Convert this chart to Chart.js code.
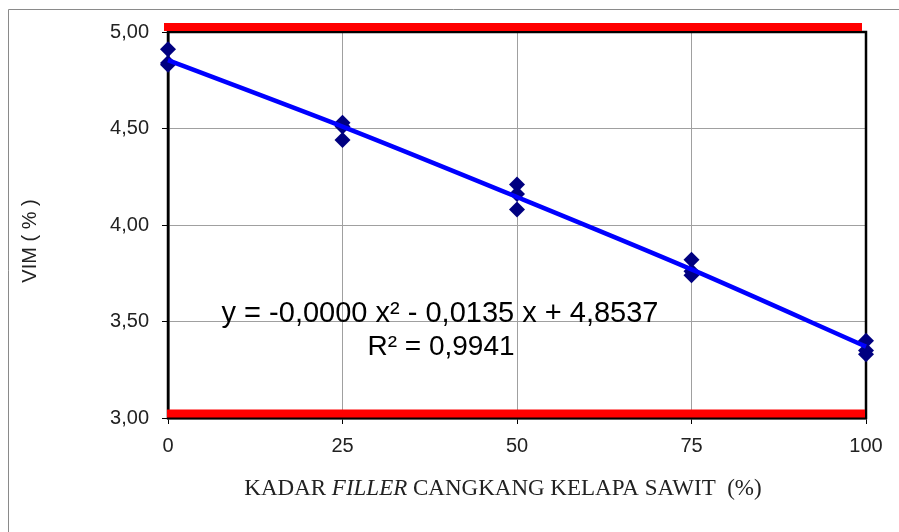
<!DOCTYPE html>
<html>
<head>
<meta charset="utf-8">
<script src="https://cdn.jsdelivr.net/npm/chart.js@4"></script>
<style>
body { margin: 0; background: #fff; }
#wrap { width: 899px; height: 532px; }
</style>
</head>
<body>
<div id="wrap"><canvas id="vimChart" width="899" height="532"></canvas></div>
<script>
// kadar filler (%)
var kadar = [0, 25, 50, 75, 100]
//data collected (three samples per kadar)
var vimA = [4.91, 4.53, 4.21, 3.82, 3.40]
var vimB = [4.84, 4.51, 4.16, 3.76, 3.35]
var vimC = [4.83, 4.44, 4.08, 3.74, 3.33]
// polynomial trendline
var trendVim = [4.854, 4.51, 4.145, 3.77, 3.37]
// spec limits (red lines)
var batasAtas = [5.0, 5.0]
var batasBawah = [3.0, 3.0]
var batasX = [0, 100]
var yTicks = [3.0, 3.5, 4.0, 4.5, 5.0]
var equation = "y = -0,0000 x\u00b2 - 0,0135 x + 4,8537"
var rSquared = "R\u00b2 = 0,9941"

function toPoints(xs, ys) {
    var pts = []
    for (var i = 0; i < xs.length; i++) {
        pts.push({x: xs[i], y: ys[i]})
    }
    return pts
}

var scatterPts = toPoints(kadar, vimA).concat(toPoints(kadar, vimB)).concat(toPoints(kadar, vimC))

var framePlugin = {
    id: "frame",
    beforeDraw: function(chart) {
        var ctx = chart.ctx
        ctx.save()
        ctx.fillStyle = "#fff"
        ctx.fillRect(0, 0, chart.width, chart.height)
        ctx.strokeStyle = "#8a8a8a"
        ctx.lineWidth = 1
        ctx.beginPath()
        ctx.moveTo(8.5, chart.height)
        ctx.lineTo(8.5, 9.5)
        ctx.lineTo(chart.width, 9.5)
        ctx.stroke()
        ctx.restore()
    },
    beforeDatasetsDraw: function(chart) {
        var a = chart.chartArea
        var ctx = chart.ctx
        ctx.save()
        ctx.strokeStyle = "#000"
        ctx.lineWidth = 2.5
        ctx.strokeRect(a.left, a.top, a.right - a.left, a.bottom - a.top)
        ctx.restore()
    },
    beforeDatasetDraw: function(chart, args) {
        var ds = chart.data.datasets[args.index]
        chart.ctx.save()
        if (ds.shiftY) chart.ctx.translate(ds.shiftX || 0, ds.shiftY)
    },
    afterDatasetDraw: function(chart) {
        chart.ctx.restore()
    },
    afterDraw: function(chart) {
        var ctx = chart.ctx
        ctx.save()
        ctx.fillStyle = "#000"
        ctx.textAlign = "center"
        ctx.textBaseline = "alphabetic"
        ctx.font = "29px 'Liberation Sans', Arial, sans-serif"
        ctx.fillText(equation, 440, 322)
        ctx.font = "28px 'Liberation Sans', Arial, sans-serif"
        ctx.fillText(rSquared, 441, 355)

        // y title
        ctx.fillStyle = "#222"
        ctx.font = "20px 'Liberation Sans', Arial, sans-serif"
        ctx.translate(30, 241)
        ctx.rotate(-Math.PI / 2)
        ctx.textBaseline = "middle"
        ctx.fillText("VIM ( % )", 0, 0)
        ctx.restore()

        // x title with italic FILLER
        ctx.save()
        ctx.fillStyle = "#222"
        ctx.textBaseline = "alphabetic"
        var parts = [["KADAR ", ""], ["FILLER", "italic "], [" CANGKANG KELAPA SAWIT  (%)", ""]]
        var total = 0
        for (var i = 0; i < parts.length; i++) {
            ctx.font = parts[i][1] + "23px 'Liberation Serif', 'Times New Roman', serif"
            total += ctx.measureText(parts[i][0]).width
        }
        var x = 503 - total / 2
        for (var j = 0; j < parts.length; j++) {
            ctx.font = parts[j][1] + "23px 'Liberation Serif', 'Times New Roman', serif"
            ctx.textAlign = "left"
            ctx.fillText(parts[j][0], x, 495)
            x += ctx.measureText(parts[j][0]).width
        }
        ctx.restore()
    }
}

var myChart = document.getElementById("vimChart").getContext("2d")
var chart = new Chart(myChart, {
    type: "scatter",
    data: {
        datasets: [{
            label: "Trendline",
            type: "line",
            data: toPoints(kadar, trendVim),
            borderColor: "#0000ff",
            borderWidth: 4.5,
            pointRadius: 0,
            tension: 0.3,
            fill: false,
            clip: false,
            order: 0
        }, {
            label: "VIM",
            data: scatterPts,
            pointStyle: "rectRot",
            pointRadius: 8,
            backgroundColor: "#000080",
            borderColor: "#000080",
            borderWidth: 0,
            clip: false,
            order: 1
        }, {
            label: "Batas atas",
            type: "line",
            data: toPoints(batasX, batasAtas),
            borderColor: "#ff0000",
            borderWidth: 8,
            pointRadius: 0,
            fill: false,
            clip: false,
            shiftX: -4,
            shiftY: -5,
            order: 2
        }, {
            label: "Batas bawah",
            type: "line",
            data: toPoints(batasX, batasBawah),
            borderColor: "#ff0000",
            borderWidth: 8,
            pointRadius: 0,
            fill: false,
            clip: false,
            shiftX: -1,
            shiftY: -4.5,
            order: 3
        }]
    },
    options: {
        responsive: false,
        animation: false,
        layout: {
            padding: {left: 0, top: 32, right: 33, bottom: 0}
        },
        plugins: {
            legend: { display: false },
            tooltip: { enabled: false },
            title: { display: false }
        },
        scales: {
            x: {
                type: "linear",
                min: 0,
                max: 100,
                afterBuildTicks: function(s) {
                    s.ticks = kadar.map(function(v) { return {value: v} })
                },
                afterFit: function(s) { s.height = 114 },
                grid: { color: "#a0a0a0", lineWidth: 1, tickColor: "#000", tickLength: 6 },
                border: { color: "#000", width: 2.5 },
                ticks: {
                    color: "#222",
                    padding: 10,
                    maxRotation: 0,
                    font: { family: "'Liberation Sans', Arial, sans-serif", size: 20 }
                }
            },
            y: {
                min: 3,
                max: 5,
                afterBuildTicks: function(s) {
                    s.ticks = yTicks.map(function(v) { return {value: v} })
                },
                afterFit: function(s) { s.width = 168 },
                grid: { color: "#a0a0a0", lineWidth: 1, tickColor: "#000", tickLength: 6 },
                border: { color: "#000", width: 2.5 },
                ticks: {
                    color: "#222",
                    padding: 13,
                    font: { family: "'Liberation Sans', Arial, sans-serif", size: 20 },
                    callback: function(v) { return v.toFixed(2).replace(".", ",") }
                }
            }
        }
    },
    plugins: [framePlugin]
})
</script>
</body>
</html>
